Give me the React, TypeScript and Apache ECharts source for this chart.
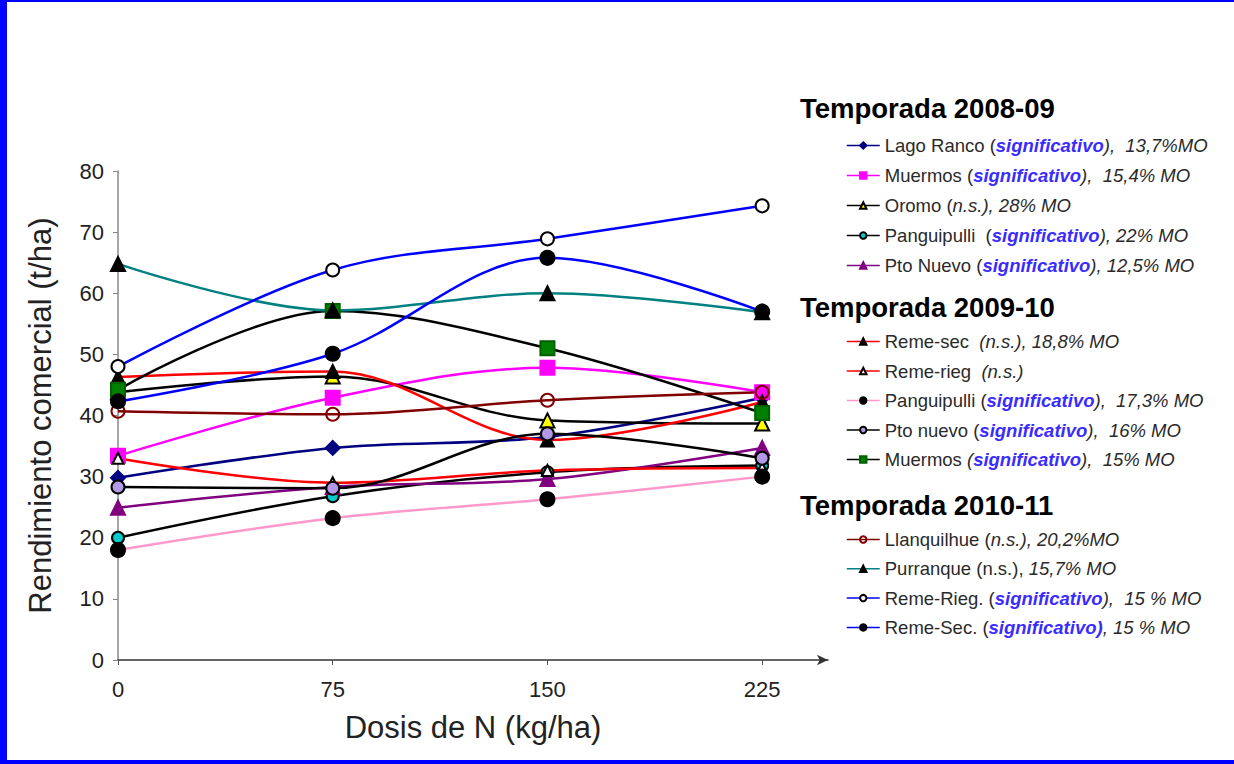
import React, { useEffect, useRef } from "react";
import * as echarts from "echarts";

// ---- data ----
const doses = [0, 75, 150, 225];
const xTicks = [0, 75, 150, 225];

const lagoRanco = [29.8, 34.7, 36.5, 42.9];
const muermos0809 = [33.4, 42.9, 47.8, 43.8];
const oromo = [43.8, 46.4, 39.2, 38.7];
const panguipulli0809 = [20.0, 26.8, 30.7, 31.8];
const ptoNuevo0809 = [24.9, 28.3, 29.6, 34.7];
const remeSec0910 = [46.3, 47.2, 36.0, 42.2];
const remeRieg0910 = [33.0, 29.0, 31.0, 31.4];
const panguipulli0910 = [18.0, 23.2, 26.3, 30.0];
const ptoNuevo0910 = [28.3, 28.1, 37.0, 33.0];
const muermos0910 = [44.2, 57.1, 51.0, 40.4];
const llanquilhue = [40.7, 40.2, 42.5, 43.8];
const purranque = [64.8, 57.2, 60.0, 56.9];
const remeRieg1011 = [48.0, 63.8, 68.9, 74.3];
const remeSec1011 = [42.3, 50.1, 65.8, 57.0];

const groupTitles = ["Temporada 2008-09", "Temporada 2009-10", "Temporada 2010-11"];

const labels0809 = [
  "{n|Lago Ranco (}{s|significativo}{i|),  13,7%MO}",
  "{n|Muermos (}{s|significativo}{i|),  15,4% MO}",
  "{n|Oromo (}{i|n.s.), 28% MO}",
  "{n|Panguipulli  (}{s|significativo}{i|), 22% MO}",
  "{n|Pto Nuevo (}{s|significativo}{i|), 12,5% MO}",
];
const labels0910 = [
  "{n|Reme-sec  }{i|(n.s.), 18,8% MO}",
  "{n|Reme-rieg  }{i|(n.s.)}",
  "{n|Panguipulli (}{s|significativo}{i|),  17,3% MO}",
  "{n|Pto nuevo (}{s|significativo}{i|),  16% MO}",
  "{n|Muermos }{i|(}{s|significativo}{i|),  15% MO}",
];
const labels1011 = [
  "{n|Llanquilhue (}{i|n.s.), 20,2%MO}",
  "{n|Purranque (n.s.), }{i|15,7% MO}",
  "{n|Reme-Rieg. (}{s|significativo}{i|),  15 % MO}",
  "{n|Reme-Sec. (}{s|significativo)}{i|, 15 % MO}",
];

const plain = (s: string) => s.replace(/\{\w+\|/g, "").replace(/\}/g, "");

type Def = {
  label: string;
  values: number[];
  line: string;
  symbol: string;
  fill: string;
  border: string;
  size: number;
};

const defs: Def[] = [
  { label: labels0809[0], values: lagoRanco, line: "#000080", symbol: "diamond", fill: "#000080", border: "#000080", size: 14 },
  { label: labels0809[1], values: muermos0809, line: "#FF00FF", symbol: "rect", fill: "#FF00FF", border: "#FF00FF", size: 14 },
  { label: labels0809[2], values: oromo, line: "#000000", symbol: "triangle", fill: "#FFFF00", border: "#000000", size: 14 },
  { label: labels0809[3], values: panguipulli0809, line: "#000000", symbol: "circle", fill: "#00CCCC", border: "#000000", size: 12 },
  { label: labels0809[4], values: ptoNuevo0809, line: "#800080", symbol: "triangle", fill: "#800080", border: "#800080", size: 14 },
  { label: labels0910[0], values: remeSec0910, line: "#FF0000", symbol: "triangle", fill: "#000000", border: "#000000", size: 13 },
  { label: labels0910[1], values: remeRieg0910, line: "#FF0000", symbol: "triangle", fill: "#FFFFFF", border: "#000000", size: 11 },
  { label: labels0910[2], values: panguipulli0910, line: "#FF99CC", symbol: "circle", fill: "#000000", border: "#000000", size: 14 },
  { label: labels0910[3], values: ptoNuevo0910, line: "#000000", symbol: "circle", fill: "#B399E6", border: "#000000", size: 13 },
  { label: labels0910[4], values: muermos0910, line: "#000000", symbol: "rect", fill: "#008000", border: "#006000", size: 14 },
  { label: labels1011[0], values: llanquilhue, line: "#800000", symbol: "circle", fill: "rgba(255,255,255,0)", border: "#800000", size: 13 },
  { label: labels1011[1], values: purranque, line: "#008080", symbol: "triangle", fill: "#000000", border: "#000000", size: 14 },
  { label: labels1011[2], values: remeRieg1011, line: "#0000FF", symbol: "circle", fill: "#FFFFFF", border: "#000000", size: 13 },
  { label: labels1011[3], values: remeSec1011, line: "#0000FF", symbol: "circle", fill: "#000000", border: "#000000", size: 14 },
];

const FONT = "'Liberation Sans', Arial, sans-serif";
const LF = 18.5;

const richMap: Record<string, string> = {};
defs.forEach((d) => (richMap[plain(d.label)] = d.label));

const rich = {
  n: { fontSize: LF, fontFamily: FONT, color: "#2a2a2a", lineHeight: 19 },
  i: { fontSize: LF, fontFamily: FONT, color: "#2a2a2a", fontStyle: "italic", lineHeight: 19 },
  s: { fontSize: LF, fontFamily: FONT, color: "#3a2cff", fontStyle: "italic", fontWeight: "bold", lineHeight: 19 },
};

function legendFor(labels: string[], top: number, gap: number) {
  return {
    orient: "vertical",
    left: 846,
    top,
    itemWidth: 33,
    itemHeight: 8,
    itemGap: gap,
    selectedMode: false,
    padding: 0,
    data: labels.map(plain),
    formatter: (name: string) => richMap[name] || name,
    lineStyle: { width: 1.5 },
    textStyle: { rich, fontSize: LF, fontFamily: FONT, color: "#2a2a2a" },
  };
}

export default function App() {
  const ref = useRef<HTMLDivElement>(null);
  useEffect(() => {
    document.body.style.margin = "0";
    const chart = echarts.init(ref.current!, undefined, { renderer: "svg" });
    const series = defs.map((d) => ({
      type: "line",
      name: plain(d.label),
      data: d.values.map((v, k) => [doses[k], v]),
      smooth: 0.35,
      symbol: d.symbol,
      symbolSize: d.size,
      showAllSymbol: true,
      lineStyle: { color: d.line, width: 2.5 },
      itemStyle: { color: d.fill, borderColor: d.border, borderWidth: 2 },
      emphasis: { disabled: true },
    }));
    chart.setOption({
      animation: false,
      backgroundColor: "#ffffff",
      grid: { left: 118, right: 406, top: 171, bottom: 104, containLabel: false },
      xAxis: {
        type: "value",
        min: 0,
        max: 248,
        name: "Dosis de N (kg/ha)",
        nameLocation: "middle",
        nameGap: 52,
        nameTextStyle: { fontSize: 31, fontFamily: FONT, color: "#222" },
        axisLine: { show: true, lineStyle: { color: "#333", width: 1.5 }, symbol: ["none", "arrow"], symbolSize: [8, 11] },
        axisTick: { show: true, length: 5, customValues: xTicks, lineStyle: { color: "#555" } },
        axisLabel: { customValues: xTicks, margin: 18, fontSize: 22, fontFamily: FONT, color: "#222" },
        splitLine: { show: false },
      },
      yAxis: {
        type: "value",
        min: 0,
        max: 80,
        interval: 10,
        name: "Rendimiento comercial (t/ha)",
        nameLocation: "middle",
        nameGap: 62,
        nameTextStyle: { fontSize: 31, fontFamily: FONT, color: "#222" },
        axisLine: { show: true, lineStyle: { color: "#888", width: 1.5 } },
        axisTick: { show: true, length: 5, lineStyle: { color: "#888" } },
        axisLabel: { margin: 14, fontSize: 22, fontFamily: FONT, color: "#222" },
        splitLine: { show: false },
      },
      legend: [legendFor(labels0809, 136, 11), legendFor(labels0910, 332, 10.5), legendFor(labels1011, 530, 10.3)],
      graphic: [
        { type: "rect", shape: { x: 0, y: 0, width: 7, height: 764 }, style: { fill: "#0000FF" }, silent: true },
        { type: "rect", shape: { x: 0, y: 0, width: 1234, height: 2 }, style: { fill: "#0000FF" }, silent: true },
        { type: "rect", shape: { x: 0, y: 760, width: 1234, height: 4 }, style: { fill: "#0000FF" }, silent: true },
        ...groupTitles.map((t, k) => ({
          type: "text",
          x: 800,
          y: [108, 307, 505][k],
          style: { text: t, font: `bold 27.5px ${FONT}`, fill: "#000", verticalAlign: "middle" },
          silent: true,
        })),
      ],
      series,
    });
    return () => chart.dispose();
  }, []);
  return <div ref={ref} style={{ position: "absolute", left: 0, top: 0, width: 1234, height: 764 }} />;
}
